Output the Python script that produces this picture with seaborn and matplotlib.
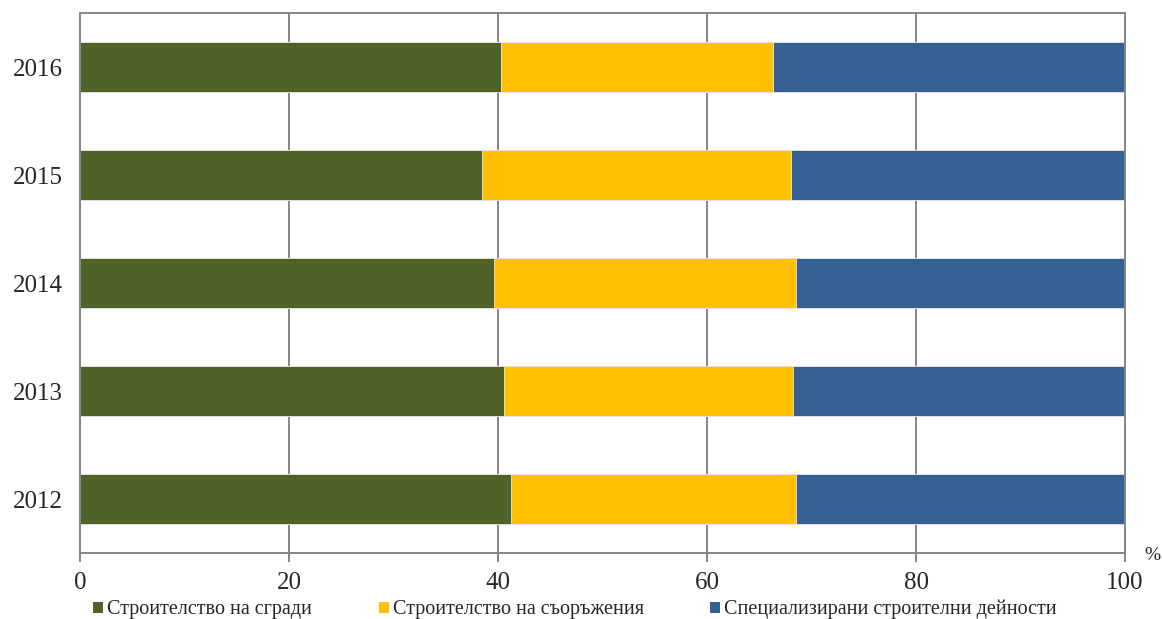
import matplotlib
matplotlib.use("Agg")
import matplotlib.pyplot as plt
import seaborn as sns
import pandas as pd
import numpy as np
from matplotlib.patches import Patch

years = ["2016", "2015", "2014", "2013", "2012"]
buildings = [40.3, 38.5, 39.6, 40.6, 41.2]
civil = [26.0, 29.5, 28.9, 27.6, 27.3]
specialised = [33.7, 32.0, 31.5, 31.8, 31.5]
series_names = ["Строителство на сгради", "Строителство на съоръжения",
                "Специализирани строителни дейности"]
colors = ["#4F6228", "#FFC000", "#366092"]

sns.set_style("white")
plt.rcParams['font.family'] = ['Liberation Serif', 'DejaVu Serif']

df = pd.DataFrame({"year": years, "b": buildings, "c": civil, "s": specialised})
df["cum1"] = df["b"]
df["cum2"] = df["b"] + df["c"]
df["cum3"] = df["b"] + df["c"] + df["s"]

fig = plt.figure(figsize=(11.62, 6.19), dpi=100)
ax = fig.add_axes([80/1162, 1-553/619, (1125-80)/1162, (553-13)/619])

for col, c in zip(["cum3", "cum2", "cum1"], colors[::-1]):
    sns.barplot(data=df, y="year", x=col, order=years, orient="h", color=c,
                width=0.46, edgecolor="#e8e8e8", linewidth=0.6, ax=ax, saturation=1)

ax.set_xlim(0, 100)
ax.set_ylim(4.5, -0.5)
ax.set_xticks([0, 20, 40, 60, 80, 100])
ax.set_xlabel("")
ax.set_ylabel("")
ax.set_axisbelow(True)
ax.grid(axis="x", color="#858585", linewidth=1.4)
ax.grid(axis="y", visible=False)
for sp in ax.spines.values():
    sp.set_color("#858585")
    sp.set_linewidth(1.4)
    sp.set_visible(True)
ax.tick_params(axis="x", direction="out", length=6.5, width=1.4, color="#858585",
               labelsize=18, pad=7, bottom=True)
ax.tick_params(axis="y", length=0, labelsize=18, pad=12)

fig.text(1152/1162, 1-555/619, "%", fontsize=14, ha="center", va="center")

handles = [Patch(facecolor=c, edgecolor="none") for c in colors]
fig.legend(handles, series_names, loc="lower center", bbox_to_anchor=(575/1162, -0.03),
           ncol=3, frameon=False, fontsize=14.5, handlelength=0.5, handleheight=0.5,
           handletextpad=0.2, columnspacing=3.3)

fig.savefig("out.png", dpi=100)
